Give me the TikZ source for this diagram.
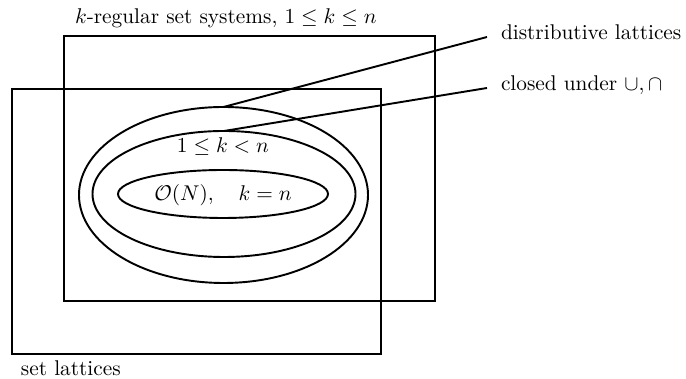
\documentclass[tikz,border=0pt]{standalone}
\usetikzlibrary{shapes.geometric}
\begin{document}
\begin{tikzpicture}[x=0.469pt,y=-0.469pt,
  box/.style={draw,line width=0.9pt,inner sep=0pt,outer sep=0pt},
  oval/.style={draw,ellipse,line width=0.9pt,inner sep=0pt,outer sep=0pt},
  lbl/.style={inner sep=0pt,outer sep=0pt},
  conn/.style={line width=0.9pt}]
\useasboundingbox (0,0) rectangle (686,379);
% rectangles
\node[box,minimum width=371*0.469pt,minimum height=265*0.469pt] (kreg) at (249.5,168.5) {};
\node[box,minimum width=369*0.469pt,minimum height=265*0.469pt] (setl) at (196.5,221.5) {};
% ellipses
\node[oval,minimum width=289*0.469pt,minimum height=176*0.469pt] (outer) at (223.5,195) {};
\node[oval,minimum width=263*0.469pt,minimum height=126*0.469pt] (middle) at (224,194) {};
\node[oval,minimum width=210*0.469pt,minimum height=48*0.469pt] (inner) at (223,194) {};
% texts
\node[lbl,anchor=base west] (kregl) at (75,24) {$k$-regular set systems, $1\le k\le n$};
\node[lbl,anchor=base west] (setll) at (21,376) {set lattices};
\node[lbl,anchor=base west] (dl) at (501,40) {distributive lattices};
\node[lbl,anchor=base west] (cl) at (501,91) {closed under $\cup,\cap$};
\node[lbl] (mid) at (223,147) {$1\le k<n$};
\node[lbl] (inn) at (223,195) {$\mathcal{O}(N),\quad k=n$};
% connectors
\coordinate (dlend) at (487,37);
\coordinate (clend) at (487,88);
\draw[conn] (outer.north) -- (dlend);
\draw[conn] (middle.north) -- (clend);
\end{tikzpicture}
\end{document}
